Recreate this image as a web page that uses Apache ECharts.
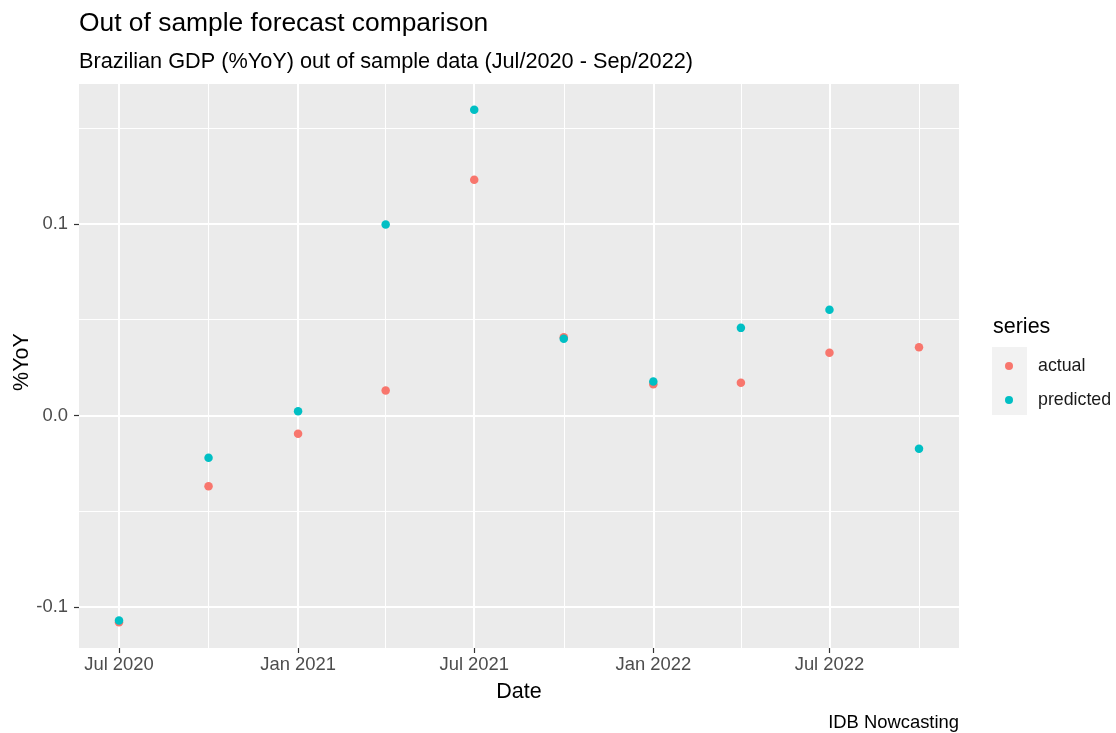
<!DOCTYPE html>
<html>
<head>
<meta charset="utf-8">
<script src="https://cdn.jsdelivr.net/npm/echarts@6/dist/echarts.min.js"></script>
<style>
  html, body { margin: 0; padding: 0; background: #ffffff; }
  #chart { width: 1116px; height: 733px; }
</style>
</head>
<body>
<div id="chart"></div>
<script>
// Quarterly observations, Brazilian GDP %YoY
const dates = ['2020-07-01', '2020-10-01', '2021-01-01', '2021-04-01', '2021-07-01',
               '2021-10-01', '2022-01-01', '2022-04-01', '2022-07-01', '2022-10-01'];
const actual    = [-0.108, -0.0369, -0.0095, 0.0130, 0.1230, 0.0408, 0.0163, 0.0171, 0.0327, 0.0356];
const predicted = [-0.107, -0.0221, 0.0022, 0.0996, 0.1596, 0.0400, 0.0177, 0.0457, 0.0551, -0.0174];
const seriesNames = ['actual', 'predicted'];

// Axis breaks
const xBreaks = ['2020-07-01', '2021-01-01', '2021-07-01', '2022-01-01', '2022-07-01'];
const xMinorBreaks = ['2020-10-01', '2021-04-01', '2021-10-01', '2022-04-01', '2022-10-01'];
const yBreaks = [-0.1, 0.0, 0.1];
const yMinorBreaks = [-0.05, 0.05, 0.15];

const MONTHS = ['Jan', 'Feb', 'Mar', 'Apr', 'May', 'Jun', 'Jul', 'Aug', 'Sep', 'Oct', 'Nov', 'Dec'];
function toTime(s) {
  const p = s.split('-').map(Number);
  return Date.UTC(p[0], p[1] - 1, p[2]);
}
function fmtDate(v) {
  const d = new Date(v);
  return MONTHS[d.getUTCMonth()] + ' ' + d.getUTCFullYear();
}

const times = dates.map(toTime);
const actualPts = times.map((t, i) => [t, actual[i]]);
const predictedPts = times.map((t, i) => [t, predicted[i]]);

// 5% padding on each side of the data range
function expand(vals) {
  const lo = Math.min.apply(null, vals), hi = Math.max.apply(null, vals);
  const pad = (hi - lo) * 0.05;
  return [lo - pad, hi + pad];
}
const xr = expand(times);
const yr = expand(actual.concat(predicted));

const FONT = '"Liberation Sans", Arial, sans-serif';
const PANEL = { left: 79, top: 84, width: 880, height: 564 };

const chart = echarts.init(document.getElementById('chart'), null, { renderer: 'canvas' });

const hiddenAxisBits = { axisLine: { show: false, onZero: false }, axisLabel: { show: false } };

chart.setOption({
  animation: false,
  backgroundColor: '#ffffff',
  grid: {
    left: PANEL.left, top: PANEL.top, width: PANEL.width, height: PANEL.height,
    show: true, backgroundColor: '#EBEBEB', borderWidth: 0
  },
  xAxis: [
    {
      type: 'value', min: xr[0], max: xr[1], position: 'bottom', z: 2,
      axisLine: { show: false, onZero: false },
      axisTick: { show: true, length: 5, customValues: xBreaks.map(toTime),
                  lineStyle: { color: '#333333', width: 1.2 } },
      axisLabel: { customValues: xBreaks.map(toTime), formatter: fmtDate, margin: 8,
                   color: '#4D4D4D', fontSize: 18.4, fontFamily: FONT },
      splitLine: { show: true, lineStyle: { color: '#FFFFFF', width: 2 } }
    },
    Object.assign({
      type: 'value', min: xr[0], max: xr[1], position: 'bottom', z: 1,
      axisTick: { show: false, customValues: xMinorBreaks.map(toTime) },
      splitLine: { show: true, lineStyle: { color: '#FFFFFF', width: 1 } }
    }, hiddenAxisBits)
  ],
  yAxis: [
    {
      type: 'value', min: yr[0], max: yr[1], position: 'left', z: 2,
      axisLine: { show: false, onZero: false },
      axisTick: { show: true, length: 5, customValues: yBreaks,
                  lineStyle: { color: '#333333', width: 1.2 } },
      axisLabel: { customValues: yBreaks, formatter: v => v.toFixed(1), margin: 11,
                   color: '#4D4D4D', fontSize: 18.4, fontFamily: FONT },
      splitLine: { show: true, lineStyle: { color: '#FFFFFF', width: 2 } }
    },
    Object.assign({
      type: 'value', min: yr[0], max: yr[1], position: 'right', z: 1,
      axisTick: { show: false, customValues: yMinorBreaks },
      splitLine: { show: true, lineStyle: { color: '#FFFFFF', width: 1 } }
    }, hiddenAxisBits)
  ],
  legend: {
    orient: 'vertical', left: 1005, top: 356, padding: 0,
    itemWidth: 8, itemHeight: 8, itemGap: 14, icon: 'circle',
    data: seriesNames,
    textStyle: { color: '#1A1A1A', fontSize: 17.8, fontFamily: FONT, lineHeight: 20,
                 padding: [0, 0, 0, 20] }
  },
  series: [
    { name: seriesNames[0], type: 'scatter', data: actualPts, symbolSize: 8.5,
      xAxisIndex: 0, yAxisIndex: 0, itemStyle: { color: '#F8766D', opacity: 1 }, z: 3 },
    { name: seriesNames[1], type: 'scatter', data: predictedPts, symbolSize: 8.5,
      xAxisIndex: 0, yAxisIndex: 0, itemStyle: { color: '#00BFC4', opacity: 1 }, z: 4 }
  ],
  graphic: [
    { type: 'text', left: 79, top: 11, silent: true,
      style: { text: 'Out of sample forecast comparison', fill: '#000000',
               font: '26.4px ' + FONT } },
    { type: 'text', left: 79, top: 51, silent: true,
      style: { text: 'Brazilian GDP (%YoY) out of sample data (Jul/2020 - Sep/2022)', fill: '#000000',
               font: '21.7px ' + FONT } },
    { type: 'text', x: 519, y: 692, silent: true,
      style: { text: 'Date', fill: '#000000', font: '21.5px ' + FONT,
               align: 'center', verticalAlign: 'middle' } },
    { type: 'text', x: 22, y: 362, rotation: Math.PI / 2, silent: true,
      style: { text: '%YoY', fill: '#000000', font: '21.5px ' + FONT,
               align: 'center', verticalAlign: 'middle' } },
    { type: 'text', x: 959, y: 723, silent: true,
      style: { text: 'IDB Nowcasting', fill: '#000000', font: '18.4px ' + FONT,
               align: 'right', verticalAlign: 'middle' } },
    { type: 'text', x: 993, y: 327, silent: true,
      style: { text: 'series', fill: '#000000', font: '21.5px ' + FONT,
               align: 'left', verticalAlign: 'middle' } },
    { type: 'rect', shape: { x: 992, y: 347, width: 35, height: 68 }, z: -1, silent: true,
      style: { fill: '#F2F2F2' } }
  ]
});
</script>
</body>
</html>
